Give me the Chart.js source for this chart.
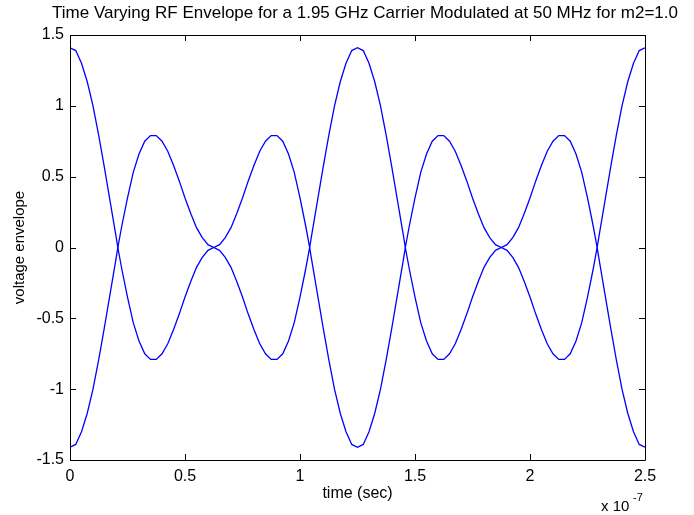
<!DOCTYPE html>
<html>
<head>
<meta charset="utf-8">
<script src="https://cdn.jsdelivr.net/npm/chart.js@4"></script>
<style>
  html, body { margin: 0; padding: 0; background: #fff; }
  #wrap { width: 694px; height: 515px; }
</style>
</head>
<body>
<div id="wrap"><canvas id="envChart" width="694" height="515"></canvas></div>
<script>
// time axis in units of 1e-7 s
const times = [
    0, 0.025, 0.05, 0.075, 0.1, 0.125, 0.15, 0.175, 0.2, 0.208, 0.225, 0.25, 0.275, 0.3, 0.325, 0.35, 0.375, 0.4, 0.425, 0.45, 0.475, 0.5, 0.525, 0.55, 0.575, 0.6, 0.625,
    0.65, 0.675, 0.7, 0.725, 0.75, 0.775, 0.8, 0.825, 0.85, 0.875, 0.9, 0.925, 0.95, 0.975, 1.0, 1.025, 1.042, 1.05, 1.075, 1.1, 1.125, 1.15, 1.175, 1.2, 1.225, 1.25,
    1.275, 1.3, 1.325, 1.35, 1.375, 1.4, 1.425, 1.45, 1.458, 1.475, 1.5, 1.525, 1.55, 1.575, 1.6, 1.625, 1.65, 1.675, 1.7, 1.725, 1.75, 1.775, 1.8, 1.825, 1.85, 1.875,
    1.9, 1.925, 1.95, 1.975, 2.0, 2.025, 2.05, 2.075, 2.1, 2.125, 2.15, 2.175, 2.2, 2.225, 2.25, 2.275, 2.292, 2.3, 2.325, 2.35, 2.375, 2.4, 2.425, 2.45, 2.475, 2.5
];

const upperEnv = [
    1.41, 1.39, 1.30, 1.17, 1.00, 0.79, 0.56, 0.32, 0.08, 0, 0.15, 0.35, 0.53, 0.66, 0.75, 0.79, 0.79, 0.75, 0.68, 0.58, 0.47, 0.35, 0.24, 0.14, 0.07, 0.02, 0,
    0.02, 0.07, 0.14, 0.24, 0.35, 0.47, 0.58, 0.68, 0.75, 0.79, 0.79, 0.75, 0.66, 0.53, 0.35, 0.15, 0, 0.08, 0.32, 0.56, 0.79, 1.00, 1.17, 1.30, 1.39, 1.41,
    1.39, 1.30, 1.17, 1.00, 0.79, 0.56, 0.32, 0.08, 0, 0.15, 0.35, 0.53, 0.66, 0.75, 0.79, 0.79, 0.75, 0.68, 0.58, 0.47, 0.35, 0.24, 0.14, 0.07, 0.02, 0,
    0.02, 0.07, 0.14, 0.24, 0.35, 0.47, 0.58, 0.68, 0.75, 0.79, 0.79, 0.75, 0.66, 0.53, 0.35, 0.15, 0, 0.08, 0.32, 0.56, 0.79, 1.00, 1.17, 1.30, 1.39, 1.41
];

const lowerEnv = [
    -1.41, -1.39, -1.30, -1.17, -1.00, -0.79, -0.56, -0.32, -0.08, 0, -0.15, -0.35, -0.53, -0.66, -0.75, -0.79, -0.79, -0.75, -0.68, -0.58, -0.47, -0.35, -0.24, -0.14, -0.07, -0.02, 0,
    -0.02, -0.07, -0.14, -0.24, -0.35, -0.47, -0.58, -0.68, -0.75, -0.79, -0.79, -0.75, -0.66, -0.53, -0.35, -0.15, 0, -0.08, -0.32, -0.56, -0.79, -1.00, -1.17, -1.30, -1.39, -1.41,
    -1.39, -1.30, -1.17, -1.00, -0.79, -0.56, -0.32, -0.08, 0, -0.15, -0.35, -0.53, -0.66, -0.75, -0.79, -0.79, -0.75, -0.68, -0.58, -0.47, -0.35, -0.24, -0.14, -0.07, -0.02, 0,
    -0.02, -0.07, -0.14, -0.24, -0.35, -0.47, -0.58, -0.68, -0.75, -0.79, -0.79, -0.75, -0.66, -0.53, -0.35, -0.15, 0, -0.08, -0.32, -0.56, -0.79, -1.00, -1.17, -1.30, -1.39, -1.41
];

const xTicks = [0, 0.5, 1, 1.5, 2, 2.5];
const yTicks = [-1.5, -1, -0.5, 0, 0.5, 1, 1.5];

const titleText = 'Time Varying RF Envelope for a 1.95 GHz Carrier Modulated at 50 MHz for m2=1.0';
const FONT = '"Liberation Sans", Arial, sans-serif';

function toPoints(ys) {
    return times.map((t, i) => ({ x: t, y: ys[i] }));
}

// matlab style box with inward ticks, title and exponent label
const matlabFrame = {
    id: 'matlabFrame',
    afterDraw(chart) {
        const { ctx, chartArea: a, scales } = chart;
        ctx.save();
        ctx.strokeStyle = '#000';
        ctx.lineWidth = 1;
        ctx.beginPath();
        ctx.rect(a.left + 0.5, a.top + 0.5, a.right - a.left, a.bottom - a.top);
        xTicks.forEach(v => {
            const px = Math.round(scales.x.getPixelForValue(v)) + 0.5;
            ctx.moveTo(px, a.bottom); ctx.lineTo(px, a.bottom - 6);
            ctx.moveTo(px, a.top); ctx.lineTo(px, a.top + 6);
        });
        yTicks.forEach(v => {
            const py = Math.round(scales.y.getPixelForValue(v)) + 0.5;
            ctx.moveTo(a.left, py); ctx.lineTo(a.left + 6, py);
            ctx.moveTo(a.right, py); ctx.lineTo(a.right - 6, py);
        });
        ctx.stroke();

        ctx.fillStyle = '#000';
        ctx.font = '17px ' + FONT;
        ctx.textAlign = 'center';
        ctx.textBaseline = 'middle';
        ctx.fillText(titleText, 365, 13);

        ctx.textAlign = 'left';
        ctx.textBaseline = 'alphabetic';
        ctx.font = '15px ' + FONT;
        ctx.fillText('x 10', 601, 511);
        ctx.font = '11px ' + FONT;
        ctx.fillText('-7', 633, 501);
        ctx.restore();
    }
};

new Chart(document.getElementById('envChart'), {
    type: 'line',
    data: {
        datasets: [
            { label: 'upper', data: toPoints(upperEnv) },
            { label: 'lower', data: toPoints(lowerEnv) }
        ]
    },
    options: {
        responsive: false,
        animation: false,
        events: [],
        layout: { padding: { top: 35, right: 49, left: 0, bottom: 0 } },
        elements: {
            line: { borderColor: '#0000ff', borderWidth: 1.3, tension: 0, fill: false },
            point: { radius: 0 }
        },
        plugins: { legend: { display: false }, tooltip: { enabled: false }, title: { display: false } },
        scales: {
            x: {
                type: 'linear',
                min: 0, max: 2.5,
                afterFit: s => { s.height = 55; },
                afterBuildTicks: s => { s.ticks = xTicks.map(v => ({ value: v })); },
                grid: { display: false, drawTicks: false },
                border: { display: false },
                ticks: { color: '#000', padding: 7, font: { family: FONT, size: 16 }, maxRotation: 0, callback: v => String(v) },
                title: { display: true, text: 'time (sec)', color: '#000', font: { family: FONT, size: 16 }, padding: { top: 0, bottom: 12 } }
            },
            y: {
                min: -1.5, max: 1.5,
                afterFit: s => { s.width = 70; },
                afterBuildTicks: s => { s.ticks = yTicks.map(v => ({ value: v })); },
                grid: { display: false, drawTicks: false },
                border: { display: false },
                ticks: { color: '#000', padding: 6, font: { family: FONT, size: 16 }, callback: v => String(v) },
                title: { display: true, text: 'voltage envelope', color: '#000', font: { family: FONT, size: 15 }, padding: { top: 11, bottom: 0 } }
            }
        }
    },
    plugins: [matlabFrame]
});
</script>
</body>
</html>
